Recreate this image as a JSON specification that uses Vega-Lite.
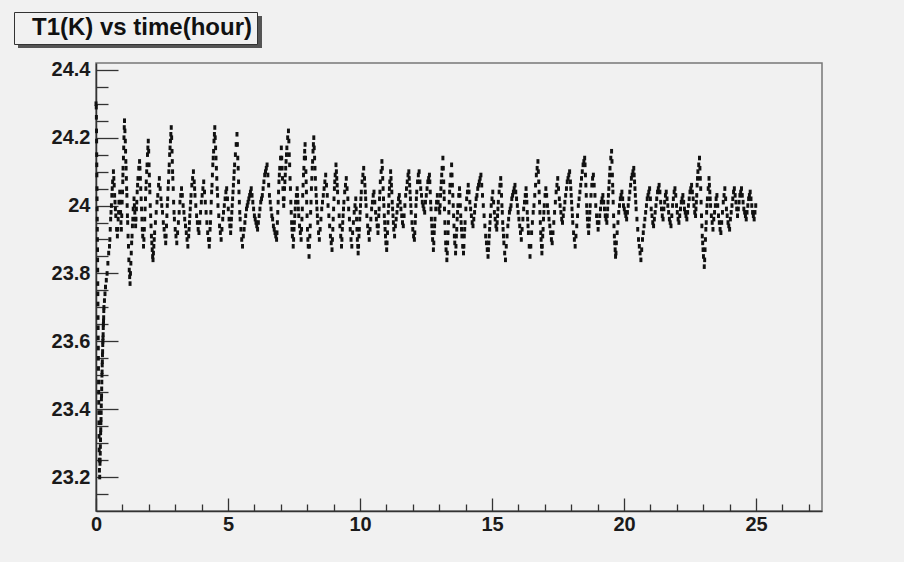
{
  "$schema": "https://vega.github.io/schema/vega-lite/v6.json",
  "width": 726,
  "height": 448,
  "autosize": {"type": "none"},
  "padding": {"left": 96, "top": 63, "right": 82, "bottom": 51},
  "background": "#f1f1f1",
  "config": {
    "font": "Liberation Sans",
    "view": {"stroke": "#777777", "strokeWidth": 1.5, "fill": "#f1f1f1"}
  },
  "data": {"values": [
    {"t":0,"v":24.30},{"t":0.01,"v":24.29},{"t":0.02,"v":24.22},{"t":0.03,"v":24.12},{"t":0.04,"v":24.02},{"t":0.05,"v":23.93},{"t":0.06,"v":23.84},{"t":0.07,"v":23.74},{"t":0.08,"v":23.64},{"t":0.09,"v":23.55},{"t":0.10,"v":23.45},{"t":0.11,"v":23.36},{"t":0.12,"v":23.28},{"t":0.13,"v":23.22},{"t":0.14,"v":23.20},{"t":0.15,"v":23.24},{"t":0.16,"v":23.27},{"t":0.17,"v":23.31},{"t":0.18,"v":23.34},{"t":0.19,"v":23.37},{"t":0.20,"v":23.41},{"t":0.21,"v":23.44},{"t":0.22,"v":23.48},{"t":0.23,"v":23.51},{"t":0.24,"v":23.54},{"t":0.25,"v":23.57},{"t":0.26,"v":23.60},{"t":0.27,"v":23.62},{"t":0.28,"v":23.65},{"t":0.29,"v":23.67},{"t":0.30,"v":23.70},{"t":0.32,"v":23.72},{"t":0.34,"v":23.74},{"t":0.36,"v":23.76},{"t":0.39,"v":23.78},{"t":0.42,"v":23.80},{"t":0.45,"v":23.83},{"t":0.48,"v":23.86},{"t":0.51,"v":23.88},
    {"t":0.54,"v":23.93},{"t":0.57,"v":23.98},{"t":0.60,"v":24.03},{"t":0.63,"v":24.07},{"t":0.66,"v":24.10},{"t":0.69,"v":24.06},{"t":0.72,"v":24.01},{"t":0.75,"v":23.97},{"t":0.78,"v":23.93},{"t":0.81,"v":23.91},{"t":0.84,"v":23.96},{"t":0.87,"v":24.01},{"t":0.90,"v":24.04},{"t":0.93,"v":23.98},{"t":0.96,"v":23.93},{"t":0.99,"v":24.01},{"t":1.02,"v":24.09},{"t":1.05,"v":24.17},{"t":1.08,"v":24.25},{"t":1.11,"v":24.19},{"t":1.14,"v":24.11},{"t":1.17,"v":24.03},{"t":1.20,"v":23.95},{"t":1.23,"v":23.88},{"t":1.26,"v":23.81},{"t":1.29,"v":23.77},{"t":1.32,"v":23.83},{"t":1.35,"v":23.89},{"t":1.38,"v":23.94},{"t":1.41,"v":23.99},{"t":1.44,"v":24.02},{"t":1.47,"v":23.98},{"t":1.50,"v":23.94},{"t":1.53,"v":23.99},{"t":1.56,"v":24.04},{"t":1.59,"v":24.08},{"t":1.62,"v":24.11},{"t":1.65,"v":24.13},{"t":1.68,"v":24.08},{"t":1.71,"v":24.02},{"t":1.74,"v":23.96},{"t":1.77,"v":23.91},{"t":1.80,"v":23.88},{"t":1.83,"v":23.93},{"t":1.86,"v":23.99},{"t":1.89,"v":24.05},{"t":1.92,"v":24.10},{"t":1.95,"v":24.15},{"t":1.98,"v":24.19},{"t":2.01,"v":24.12},{"t":2.04,"v":24.04},{"t":2.07,"v":23.97},{"t":2.10,"v":23.91},{"t":2.13,"v":23.87},{"t":2.16,"v":23.84},{"t":2.19,"v":23.88},{"t":2.22,"v":23.92},{"t":2.25,"v":23.95},{"t":2.28,"v":23.98},{"t":2.31,"v":24.01},{"t":2.34,"v":24.03},{"t":2.37,"v":24.06},{"t":2.40,"v":24.08},{"t":2.43,"v":24.05},{"t":2.46,"v":24.02},{"t":2.49,"v":24.00},{"t":2.52,"v":23.98},{"t":2.55,"v":23.95},{"t":2.58,"v":23.93},{"t":2.61,"v":23.91},{"t":2.64,"v":23.89},{"t":2.67,"v":23.94},{"t":2.70,"v":24.00},{"t":2.73,"v":24.05},{"t":2.76,"v":24.10},{"t":2.79,"v":24.15},{"t":2.82,"v":24.19},{"t":2.85,"v":24.23},{"t":2.88,"v":24.16},{"t":2.91,"v":24.08},{"t":2.94,"v":24.01},{"t":2.97,"v":23.96},{"t":3.00,"v":23.93},{"t":3.03,"v":23.91},{"t":3.06,"v":23.89},{"t":3.09,"v":23.92},{"t":3.12,"v":23.95},{"t":3.15,"v":23.98},{"t":3.18,"v":24.01},{"t":3.21,"v":24.03},{"t":3.24,"v":24.05},{"t":3.27,"v":24.03},{"t":3.30,"v":24.00},{"t":3.33,"v":23.98},{"t":3.36,"v":23.96},{"t":3.39,"v":23.94},{"t":3.42,"v":23.92},{"t":3.45,"v":23.90},{"t":3.48,"v":23.88},{"t":3.51,"v":23.91},{"t":3.54,"v":23.95},{"t":3.57,"v":23.99},{"t":3.60,"v":24.03},{"t":3.63,"v":24.06},{"t":3.66,"v":24.08},{"t":3.69,"v":24.10},{"t":3.72,"v":24.07},{"t":3.75,"v":24.03},{"t":3.78,"v":24.00},{"t":3.81,"v":23.97},{"t":3.84,"v":23.95},{"t":3.87,"v":23.93},{"t":3.90,"v":23.92},{"t":3.93,"v":23.95},{"t":3.96,"v":23.98},{"t":3.99,"v":24.01},{"t":4.02,"v":24.03},{"t":4.05,"v":24.05},{"t":4.08,"v":24.07},{"t":4.11,"v":24.04},{"t":4.14,"v":24.01},{"t":4.17,"v":23.98},{"t":4.20,"v":23.95},{"t":4.23,"v":23.92},{"t":4.26,"v":23.90},{"t":4.29,"v":23.88},{"t":4.32,"v":23.93},{"t":4.35,"v":23.98},{"t":4.38,"v":24.04},{"t":4.41,"v":24.09},{"t":4.44,"v":24.14},{"t":4.47,"v":24.19},{"t":4.50,"v":24.23},{"t":4.53,"v":24.17},{"t":4.56,"v":24.11},{"t":4.59,"v":24.05},{"t":4.62,"v":24.00},{"t":4.65,"v":23.97},{"t":4.68,"v":23.94},{"t":4.71,"v":23.92},{"t":4.74,"v":23.90},{"t":4.77,"v":23.93},{"t":4.80,"v":23.96},{"t":4.83,"v":23.98},{"t":4.86,"v":24.00},{"t":4.89,"v":24.02},{"t":4.92,"v":24.04},{"t":4.95,"v":24.05},{"t":4.98,"v":24.02},{"t":5.01,"v":23.99},{"t":5.04,"v":23.96},{"t":5.07,"v":23.94},{"t":5.10,"v":23.92},{"t":5.13,"v":23.96},{"t":5.16,"v":24.00},{"t":5.19,"v":24.04},{"t":5.22,"v":24.08},{"t":5.25,"v":24.12},{"t":5.28,"v":24.15},{"t":5.31,"v":24.18},{"t":5.34,"v":24.21},{"t":5.37,"v":24.14},{"t":5.40,"v":24.07},{"t":5.43,"v":24.01},{"t":5.46,"v":23.96},{"t":5.49,"v":23.93},{"t":5.52,"v":23.90},{"t":5.55,"v":23.88},{"t":5.58,"v":23.91},{"t":5.61,"v":23.93},{"t":5.64,"v":23.95},{"t":5.67,"v":23.97},{"t":5.70,"v":23.99},{"t":5.73,"v":24.00},{"t":5.76,"v":24.01},{"t":5.79,"v":24.02},{"t":5.82,"v":24.03},{"t":5.85,"v":24.04},{"t":5.88,"v":24.05},{"t":5.91,"v":24.03},{"t":5.94,"v":24.01},{"t":5.97,"v":23.99},{"t":6.00,"v":23.97},{"t":6.03,"v":23.96},{"t":6.06,"v":23.95},{"t":6.09,"v":23.94},{"t":6.12,"v":23.93},{"t":6.15,"v":23.95},{"t":6.18,"v":23.97},{"t":6.21,"v":23.99},{"t":6.24,"v":24.01},{"t":6.27,"v":24.02},{"t":6.30,"v":24.03},{"t":6.33,"v":24.05},{"t":6.36,"v":24.07},{"t":6.39,"v":24.09},{"t":6.42,"v":24.10},{"t":6.45,"v":24.11},{"t":6.48,"v":24.12},{"t":6.51,"v":24.09},{"t":6.54,"v":24.06},{"t":6.57,"v":24.03},{"t":6.60,"v":24.01},{"t":6.63,"v":23.99},{"t":6.66,"v":23.97},{"t":6.69,"v":23.96},{"t":6.72,"v":23.94},{"t":6.75,"v":23.93},{"t":6.78,"v":23.92},{"t":6.81,"v":23.91},{"t":6.84,"v":23.90},{"t":6.87,"v":23.95},{"t":6.90,"v":24.01},{"t":6.93,"v":24.07},{"t":6.96,"v":24.11},{"t":6.99,"v":24.14},{"t":7.02,"v":24.17},{"t":7.05,"v":24.11},{"t":7.08,"v":24.05},{"t":7.11,"v":24.00},{"t":7.14,"v":24.05},{"t":7.17,"v":24.09},{"t":7.20,"v":24.13},{"t":7.23,"v":24.17},{"t":7.26,"v":24.20},{"t":7.29,"v":24.22},{"t":7.32,"v":24.15},{"t":7.35,"v":24.08},{"t":7.38,"v":24.01},{"t":7.41,"v":23.95},{"t":7.44,"v":23.91},{"t":7.47,"v":23.88},{"t":7.50,"v":23.93},{"t":7.53,"v":23.97},{"t":7.56,"v":24.01},{"t":7.59,"v":24.03},{"t":7.62,"v":24.05},{"t":7.65,"v":24.01},{"t":7.68,"v":23.97},{"t":7.71,"v":23.94},{"t":7.74,"v":23.92},{"t":7.77,"v":23.90},{"t":7.80,"v":23.96},{"t":7.83,"v":24.03},{"t":7.86,"v":24.09},{"t":7.89,"v":24.14},{"t":7.92,"v":24.18},{"t":7.95,"v":24.10},{"t":7.98,"v":24.01},{"t":8.01,"v":23.93},{"t":8.04,"v":23.88},{"t":8.07,"v":23.85},{"t":8.10,"v":23.91},{"t":8.13,"v":23.98},{"t":8.16,"v":24.05},{"t":8.19,"v":24.11},{"t":8.22,"v":24.16},{"t":8.25,"v":24.20},{"t":8.28,"v":24.14},{"t":8.31,"v":24.08},{"t":8.34,"v":24.03},{"t":8.37,"v":23.99},{"t":8.40,"v":23.95},{"t":8.43,"v":23.92},{"t":8.46,"v":23.90},{"t":8.49,"v":23.93},{"t":8.52,"v":23.96},{"t":8.55,"v":23.99},{"t":8.58,"v":24.01},{"t":8.61,"v":24.03},{"t":8.64,"v":24.05},{"t":8.67,"v":24.07},{"t":8.70,"v":24.09},{"t":8.73,"v":24.06},{"t":8.76,"v":24.03},{"t":8.79,"v":24.00},{"t":8.82,"v":23.97},{"t":8.85,"v":23.94},{"t":8.88,"v":23.91},{"t":8.91,"v":23.89},{"t":8.94,"v":23.87},{"t":8.97,"v":23.93},{"t":9.00,"v":23.99},{"t":9.03,"v":24.05},{"t":9.06,"v":24.09},{"t":9.09,"v":24.12},{"t":9.12,"v":24.08},{"t":9.15,"v":24.04},{"t":9.18,"v":24.01},{"t":9.21,"v":23.97},{"t":9.24,"v":23.94},{"t":9.27,"v":23.91},{"t":9.30,"v":23.88},{"t":9.33,"v":23.93},{"t":9.36,"v":23.97},{"t":9.39,"v":24.01},{"t":9.42,"v":24.04},{"t":9.45,"v":24.06},{"t":9.48,"v":24.08},{"t":9.51,"v":24.05},{"t":9.54,"v":24.02},{"t":9.57,"v":23.99},{"t":9.60,"v":23.96},{"t":9.63,"v":23.93},{"t":9.66,"v":23.90},{"t":9.69,"v":23.88},{"t":9.72,"v":23.92},{"t":9.75,"v":23.95},{"t":9.78,"v":23.98},{"t":9.81,"v":24.00},{"t":9.84,"v":24.02},{"t":9.87,"v":23.96},{"t":9.90,"v":23.90},{"t":9.93,"v":23.86},{"t":9.96,"v":23.91},{"t":9.99,"v":23.96},{"t":10.02,"v":24.00},{"t":10.05,"v":24.04},{"t":10.08,"v":24.07},{"t":10.11,"v":24.09},{"t":10.14,"v":24.11},{"t":10.17,"v":24.08},{"t":10.20,"v":24.04},{"t":10.23,"v":24.00},{"t":10.26,"v":23.97},{"t":10.29,"v":23.94},{"t":10.32,"v":23.92},{"t":10.35,"v":23.90},{"t":10.38,"v":23.93},{"t":10.41,"v":23.96},{"t":10.44,"v":23.99},{"t":10.47,"v":24.01},{"t":10.50,"v":24.03},{"t":10.53,"v":24.04},{"t":10.56,"v":24.01},{"t":10.59,"v":23.98},{"t":10.62,"v":23.96},{"t":10.65,"v":23.94},{"t":10.68,"v":23.92},{"t":10.71,"v":23.97},{"t":10.74,"v":24.02},{"t":10.77,"v":24.07},{"t":10.80,"v":24.10},{"t":10.83,"v":24.13},{"t":10.86,"v":24.08},{"t":10.89,"v":24.02},{"t":10.92,"v":23.97},{"t":10.95,"v":23.93},{"t":10.98,"v":23.89},{"t":11.01,"v":23.87},{"t":11.04,"v":23.92},{"t":11.07,"v":23.98},{"t":11.10,"v":24.03},{"t":11.13,"v":24.07},{"t":11.16,"v":24.10},{"t":11.19,"v":24.06},{"t":11.22,"v":24.01},{"t":11.25,"v":23.97},{"t":11.28,"v":23.93},{"t":11.31,"v":23.91},{"t":11.34,"v":23.94},{"t":11.37,"v":23.96},{"t":11.40,"v":23.98},{"t":11.43,"v":24.00},{"t":11.46,"v":24.02},{"t":11.49,"v":24.03},{"t":11.52,"v":24.01},{"t":11.55,"v":23.99},{"t":11.58,"v":23.97},{"t":11.61,"v":23.95},{"t":11.64,"v":23.94},{"t":11.67,"v":23.97},{"t":11.70,"v":24.00},{"t":11.73,"v":24.03},{"t":11.76,"v":24.05},{"t":11.79,"v":24.07},{"t":11.82,"v":24.09},{"t":11.85,"v":24.10},{"t":11.88,"v":24.06},{"t":11.91,"v":24.02},{"t":11.94,"v":23.98},{"t":11.97,"v":23.95},{"t":12.00,"v":23.93},{"t":12.03,"v":23.91},{"t":12.06,"v":23.90},{"t":12.09,"v":23.95},{"t":12.12,"v":24.00},{"t":12.15,"v":24.04},{"t":12.18,"v":24.07},{"t":12.21,"v":24.09},{"t":12.24,"v":24.10},{"t":12.27,"v":24.07},{"t":12.30,"v":24.05},{"t":12.33,"v":24.03},{"t":12.36,"v":24.01},{"t":12.39,"v":24.00},{"t":12.42,"v":23.99},{"t":12.45,"v":23.98},{"t":12.48,"v":24.01},{"t":12.51,"v":24.03},{"t":12.54,"v":24.05},{"t":12.57,"v":24.07},{"t":12.60,"v":24.08},{"t":12.63,"v":24.09},{"t":12.66,"v":24.04},{"t":12.69,"v":23.99},{"t":12.72,"v":23.94},{"t":12.75,"v":23.90},{"t":12.78,"v":23.87},{"t":12.81,"v":23.92},{"t":12.84,"v":23.96},{"t":12.87,"v":23.99},{"t":12.90,"v":24.01},{"t":12.93,"v":24.03},{"t":12.96,"v":24.01},{"t":12.99,"v":23.99},{"t":13.02,"v":23.98},{"t":13.05,"v":24.03},{"t":13.08,"v":24.07},{"t":13.11,"v":24.11},{"t":13.14,"v":24.14},{"t":13.17,"v":24.07},{"t":13.20,"v":23.99},{"t":13.23,"v":23.92},{"t":13.26,"v":23.87},{"t":13.29,"v":23.84},{"t":13.32,"v":23.89},{"t":13.35,"v":23.95},{"t":13.38,"v":24.01},{"t":13.41,"v":24.06},{"t":13.44,"v":24.09},{"t":13.47,"v":24.12},{"t":13.50,"v":24.06},{"t":13.53,"v":24.00},{"t":13.56,"v":23.94},{"t":13.59,"v":23.89},{"t":13.62,"v":23.86},{"t":13.65,"v":23.91},{"t":13.68,"v":23.96},{"t":13.71,"v":24.00},{"t":13.74,"v":24.03},{"t":13.77,"v":24.05},{"t":13.80,"v":24.00},{"t":13.83,"v":23.95},{"t":13.86,"v":23.91},{"t":13.89,"v":23.88},{"t":13.92,"v":23.86},{"t":13.95,"v":23.91},{"t":13.98,"v":23.95},{"t":14.01,"v":23.99},{"t":14.04,"v":24.02},{"t":14.07,"v":24.04},{"t":14.10,"v":24.06},{"t":14.13,"v":24.04},{"t":14.16,"v":24.01},{"t":14.19,"v":23.99},{"t":14.22,"v":23.97},{"t":14.25,"v":23.95},{"t":14.28,"v":23.94},{"t":14.31,"v":23.96},{"t":14.34,"v":23.98},{"t":14.37,"v":24.00},{"t":14.40,"v":24.02},{"t":14.43,"v":24.03},{"t":14.46,"v":24.05},{"t":14.49,"v":24.06},{"t":14.52,"v":24.07},{"t":14.55,"v":24.08},{"t":14.58,"v":24.09},{"t":14.61,"v":24.06},{"t":14.64,"v":24.03},{"t":14.67,"v":24.00},{"t":14.70,"v":23.97},{"t":14.73,"v":23.94},{"t":14.76,"v":23.91},{"t":14.79,"v":23.89},{"t":14.82,"v":23.87},{"t":14.85,"v":23.85},{"t":14.88,"v":23.89},{"t":14.91,"v":23.93},{"t":14.94,"v":23.97},{"t":14.97,"v":24.00},{"t":15.00,"v":24.02},{"t":15.03,"v":24.04},{"t":15.06,"v":24.01},{"t":15.09,"v":23.98},{"t":15.12,"v":23.96},{"t":15.15,"v":23.94},{"t":15.18,"v":23.93},{"t":15.21,"v":23.97},{"t":15.24,"v":24.01},{"t":15.27,"v":24.04},{"t":15.30,"v":24.06},{"t":15.33,"v":24.08},{"t":15.36,"v":24.03},{"t":15.39,"v":23.98},{"t":15.42,"v":23.93},{"t":15.45,"v":23.89},{"t":15.48,"v":23.86},{"t":15.51,"v":23.84},{"t":15.54,"v":23.88},{"t":15.57,"v":23.91},{"t":15.60,"v":23.94},{"t":15.63,"v":23.96},{"t":15.66,"v":23.98},{"t":15.69,"v":23.99},{"t":15.72,"v":24.00},{"t":15.75,"v":24.02},{"t":15.78,"v":24.03},{"t":15.81,"v":24.04},{"t":15.84,"v":24.05},{"t":15.87,"v":24.06},{"t":15.90,"v":24.04},{"t":15.93,"v":24.02},{"t":15.96,"v":24.00},{"t":15.99,"v":23.98},{"t":16.02,"v":23.96},{"t":16.05,"v":23.94},{"t":16.08,"v":23.92},{"t":16.11,"v":23.90},{"t":16.14,"v":23.93},{"t":16.17,"v":23.96},{"t":16.20,"v":23.99},{"t":16.23,"v":24.01},{"t":16.26,"v":24.03},{"t":16.29,"v":24.05},{"t":16.32,"v":24.01},{"t":16.35,"v":23.96},{"t":16.38,"v":23.92},{"t":16.41,"v":23.88},{"t":16.44,"v":23.85},{"t":16.47,"v":23.88},{"t":16.50,"v":23.92},{"t":16.53,"v":23.95},{"t":16.56,"v":23.98},{"t":16.59,"v":24.00},{"t":16.62,"v":24.03},{"t":16.65,"v":24.06},{"t":16.68,"v":24.09},{"t":16.71,"v":24.11},{"t":16.74,"v":24.13},{"t":16.77,"v":24.07},{"t":16.80,"v":24.01},{"t":16.83,"v":23.95},{"t":16.86,"v":23.90},{"t":16.89,"v":23.86},{"t":16.92,"v":23.91},{"t":16.95,"v":23.96},{"t":16.98,"v":24.00},{"t":17.01,"v":24.03},{"t":17.04,"v":24.05},{"t":17.07,"v":24.03},{"t":17.10,"v":24.00},{"t":17.13,"v":23.98},{"t":17.16,"v":23.96},{"t":17.19,"v":23.94},{"t":17.22,"v":23.92},{"t":17.25,"v":23.90},{"t":17.28,"v":23.89},{"t":17.31,"v":23.92},{"t":17.34,"v":23.95},{"t":17.37,"v":23.98},{"t":17.40,"v":24.01},{"t":17.43,"v":24.04},{"t":17.46,"v":24.06},{"t":17.49,"v":24.08},{"t":17.52,"v":24.05},{"t":17.55,"v":24.02},{"t":17.58,"v":24.00},{"t":17.61,"v":23.98},{"t":17.64,"v":23.96},{"t":17.67,"v":23.95},{"t":17.70,"v":23.97},{"t":17.73,"v":23.99},{"t":17.76,"v":24.01},{"t":17.79,"v":24.03},{"t":17.82,"v":24.05},{"t":17.85,"v":24.07},{"t":17.88,"v":24.08},{"t":17.91,"v":24.09},{"t":17.94,"v":24.10},{"t":17.97,"v":24.07},{"t":18.00,"v":24.03},{"t":18.03,"v":23.99},{"t":18.06,"v":23.95},{"t":18.09,"v":23.92},{"t":18.12,"v":23.90},{"t":18.15,"v":23.88},{"t":18.18,"v":23.91},{"t":18.21,"v":23.94},{"t":18.24,"v":23.97},{"t":18.27,"v":24.00},{"t":18.30,"v":24.02},{"t":18.33,"v":24.04},{"t":18.36,"v":24.06},{"t":18.39,"v":24.08},{"t":18.42,"v":24.10},{"t":18.45,"v":24.12},{"t":18.48,"v":24.13},{"t":18.51,"v":24.14},{"t":18.54,"v":24.09},{"t":18.57,"v":24.03},{"t":18.60,"v":23.98},{"t":18.63,"v":23.94},{"t":18.66,"v":23.92},{"t":18.69,"v":23.96},{"t":18.72,"v":24.00},{"t":18.75,"v":24.03},{"t":18.78,"v":24.06},{"t":18.81,"v":24.08},{"t":18.84,"v":24.09},{"t":18.87,"v":24.06},{"t":18.90,"v":24.03},{"t":18.93,"v":24.00},{"t":18.96,"v":23.97},{"t":18.99,"v":23.95},{"t":19.02,"v":23.93},{"t":19.05,"v":23.95},{"t":19.08,"v":23.97},{"t":19.11,"v":23.99},{"t":19.14,"v":24.01},{"t":19.17,"v":24.02},{"t":19.20,"v":24.03},{"t":19.23,"v":24.01},{"t":19.26,"v":23.99},{"t":19.29,"v":23.97},{"t":19.32,"v":23.96},{"t":19.35,"v":23.95},{"t":19.38,"v":23.99},{"t":19.41,"v":24.03},{"t":19.44,"v":24.07},{"t":19.47,"v":24.11},{"t":19.50,"v":24.14},{"t":19.53,"v":24.16},{"t":19.56,"v":24.09},{"t":19.59,"v":24.01},{"t":19.62,"v":23.94},{"t":19.65,"v":23.89},{"t":19.68,"v":23.85},{"t":19.71,"v":23.89},{"t":19.74,"v":23.92},{"t":19.77,"v":23.95},{"t":19.80,"v":23.98},{"t":19.83,"v":24.00},{"t":19.86,"v":24.02},{"t":19.89,"v":24.03},{"t":19.92,"v":24.04},{"t":19.95,"v":24.02},{"t":19.98,"v":24.00},{"t":20.01,"v":23.99},{"t":20.04,"v":23.98},{"t":20.07,"v":23.97},{"t":20.10,"v":23.96},{"t":20.13,"v":23.98},{"t":20.16,"v":24.00},{"t":20.19,"v":24.02},{"t":20.22,"v":24.04},{"t":20.25,"v":24.06},{"t":20.28,"v":24.08},{"t":20.31,"v":24.09},{"t":20.34,"v":24.10},{"t":20.37,"v":24.11},{"t":20.40,"v":24.07},{"t":20.43,"v":24.03},{"t":20.46,"v":23.99},{"t":20.49,"v":23.96},{"t":20.52,"v":23.93},{"t":20.55,"v":23.90},{"t":20.58,"v":23.88},{"t":20.61,"v":23.86},{"t":20.64,"v":23.84},{"t":20.67,"v":23.87},{"t":20.70,"v":23.90},{"t":20.73,"v":23.92},{"t":20.76,"v":23.94},{"t":20.79,"v":23.96},{"t":20.82,"v":23.98},{"t":20.85,"v":24.00},{"t":20.88,"v":24.02},{"t":20.91,"v":24.03},{"t":20.94,"v":24.04},{"t":20.97,"v":24.05},{"t":21.00,"v":24.02},{"t":21.03,"v":23.99},{"t":21.06,"v":23.97},{"t":21.09,"v":23.95},{"t":21.12,"v":23.94},{"t":21.15,"v":23.96},{"t":21.18,"v":23.98},{"t":21.21,"v":24.00},{"t":21.24,"v":24.02},{"t":21.27,"v":24.04},{"t":21.30,"v":24.05},{"t":21.33,"v":24.06},{"t":21.36,"v":24.04},{"t":21.39,"v":24.01},{"t":21.42,"v":23.99},{"t":21.45,"v":23.97},{"t":21.48,"v":23.96},{"t":21.51,"v":23.99},{"t":21.54,"v":24.01},{"t":21.57,"v":24.03},{"t":21.60,"v":24.04},{"t":21.63,"v":24.02},{"t":21.66,"v":24.00},{"t":21.69,"v":23.98},{"t":21.72,"v":23.96},{"t":21.75,"v":23.95},{"t":21.78,"v":23.94},{"t":21.81,"v":23.97},{"t":21.84,"v":24.00},{"t":21.87,"v":24.02},{"t":21.90,"v":24.04},{"t":21.93,"v":24.05},{"t":21.96,"v":24.03},{"t":21.99,"v":24.00},{"t":22.02,"v":23.98},{"t":22.05,"v":23.96},{"t":22.08,"v":23.95},{"t":22.11,"v":23.97},{"t":22.14,"v":23.99},{"t":22.17,"v":24.01},{"t":22.20,"v":24.02},{"t":22.23,"v":24.03},{"t":22.26,"v":24.01},{"t":22.29,"v":23.99},{"t":22.32,"v":23.98},{"t":22.35,"v":23.97},{"t":22.38,"v":23.96},{"t":22.41,"v":23.98},{"t":22.44,"v":24.00},{"t":22.47,"v":24.02},{"t":22.50,"v":24.04},{"t":22.53,"v":24.05},{"t":22.56,"v":24.06},{"t":22.59,"v":24.04},{"t":22.62,"v":24.02},{"t":22.65,"v":24.00},{"t":22.68,"v":23.98},{"t":22.71,"v":23.97},{"t":22.74,"v":24.01},{"t":22.77,"v":24.06},{"t":22.80,"v":24.10},{"t":22.83,"v":24.12},{"t":22.86,"v":24.14},{"t":22.89,"v":24.08},{"t":22.92,"v":24.01},{"t":22.95,"v":23.94},{"t":22.98,"v":23.89},{"t":23.01,"v":23.85},{"t":23.04,"v":23.82},{"t":23.07,"v":23.87},{"t":23.10,"v":23.93},{"t":23.13,"v":23.98},{"t":23.16,"v":24.02},{"t":23.19,"v":24.05},{"t":23.22,"v":24.08},{"t":23.25,"v":24.04},{"t":23.28,"v":24.00},{"t":23.31,"v":23.97},{"t":23.34,"v":23.95},{"t":23.37,"v":23.93},{"t":23.40,"v":23.96},{"t":23.43,"v":23.98},{"t":23.46,"v":24.00},{"t":23.49,"v":24.02},{"t":23.52,"v":24.03},{"t":23.55,"v":24.00},{"t":23.58,"v":23.97},{"t":23.61,"v":23.95},{"t":23.64,"v":23.93},{"t":23.67,"v":23.92},{"t":23.70,"v":23.95},{"t":23.73,"v":23.98},{"t":23.76,"v":24.01},{"t":23.79,"v":24.03},{"t":23.82,"v":24.05},{"t":23.85,"v":24.02},{"t":23.88,"v":23.99},{"t":23.91,"v":23.97},{"t":23.94,"v":23.95},{"t":23.97,"v":23.94},{"t":24.00,"v":23.93},{"t":24.03,"v":23.96},{"t":24.06,"v":23.98},{"t":24.09,"v":24.00},{"t":24.12,"v":24.02},{"t":24.15,"v":24.04},{"t":24.18,"v":24.05},{"t":24.21,"v":24.03},{"t":24.24,"v":24.01},{"t":24.27,"v":23.99},{"t":24.30,"v":23.97},{"t":24.33,"v":23.99},{"t":24.36,"v":24.01},{"t":24.39,"v":24.03},{"t":24.42,"v":24.04},{"t":24.45,"v":24.05},{"t":24.48,"v":24.03},{"t":24.51,"v":24.01},{"t":24.54,"v":23.99},{"t":24.57,"v":23.98},{"t":24.60,"v":23.97},{"t":24.63,"v":23.96},{"t":24.66,"v":23.98},{"t":24.69,"v":24.00},{"t":24.72,"v":24.02},{"t":24.75,"v":24.03},{"t":24.78,"v":24.04},{"t":24.81,"v":24.02},{"t":24.84,"v":24.00},{"t":24.87,"v":23.98},{"t":24.90,"v":23.97},{"t":24.93,"v":23.96},{"t":24.96,"v":23.98},{"t":24.99,"v":24.00},
    {"t":0.015,"v":24.26},{"t":0.023,"v":24.19},{"t":0.027,"v":24.15},{"t":0.033,"v":24.09},{"t":0.037,"v":24.05},{"t":0.043,"v":23.99},{"t":0.047,"v":23.96},{"t":0.053,"v":23.90},{"t":0.057,"v":23.87},{"t":0.063,"v":23.81},{"t":0.067,"v":23.77},{"t":0.073,"v":23.71},{"t":0.077,"v":23.67},{"t":0.083,"v":23.61},{"t":0.087,"v":23.58},{"t":0.093,"v":23.52},{"t":0.097,"v":23.48},{"t":0.103,"v":23.42},{"t":0.107,"v":23.39},{"t":0.115,"v":23.32},{"t":0.125,"v":23.25},{"t":0.155,"v":23.25},{"t":0.165,"v":23.29},{"t":0.175,"v":23.33},{"t":0.185,"v":23.36},{"t":0.195,"v":23.39},{"t":0.205,"v":23.43},{"t":0.215,"v":23.46},{"t":0.225,"v":23.50},{"t":0.235,"v":23.53},{"t":0.245,"v":23.56},{"t":0.255,"v":23.59},{"t":0.265,"v":23.61},{"t":0.275,"v":23.64},{"t":0.285,"v":23.66},{"t":0.295,"v":23.69},
    {"t":0.525,"v":23.90},{"t":0.555,"v":23.96},{"t":0.585,"v":24.00},{"t":0.615,"v":24.05},{"t":0.675,"v":24.08},{"t":0.705,"v":24.03},{"t":0.735,"v":23.99},{"t":0.825,"v":23.93},{"t":0.855,"v":23.98},{"t":0.915,"v":24.01},{"t":0.945,"v":23.95},{"t":0.975,"v":23.97},{"t":1.005,"v":24.04},{"t":1.015,"v":24.07},{"t":1.025,"v":24.11},{"t":1.04,"v":24.14},{"t":1.06,"v":24.20},{"t":1.07,"v":24.23},{"t":1.095,"v":24.22},{"t":1.12,"v":24.16},{"t":1.13,"v":24.13},{"t":1.15,"v":24.08},{"t":1.16,"v":24.05},{"t":1.18,"v":24.00},{"t":1.19,"v":23.97},{"t":1.215,"v":23.91},{"t":1.245,"v":23.84},{"t":1.275,"v":23.79},{"t":1.305,"v":23.80},{"t":1.335,"v":23.86},{"t":1.365,"v":23.91},{"t":1.395,"v":23.96},{"t":1.455,"v":24.00},{"t":1.485,"v":23.96},{"t":1.515,"v":23.96},{"t":1.545,"v":24.01},{"t":1.575,"v":24.06},{"t":1.665,"v":24.11},{"t":1.695,"v":24.05},{"t":1.725,"v":23.99},{"t":1.755,"v":23.93},{"t":1.815,"v":23.90},{"t":1.845,"v":23.96},{"t":1.875,"v":24.02},{"t":1.905,"v":24.07},{"t":1.935,"v":24.12},{"t":1.965,"v":24.17},{"t":1.995,"v":24.16},{"t":2.02,"v":24.09},{"t":2.03,"v":24.06},{"t":2.055,"v":24.00},{"t":2.085,"v":23.94},{"t":2.115,"v":23.89},{"t":2.145,"v":23.85},{"t":2.175,"v":23.86},{"t":2.205,"v":23.90},
    {"t":2.655,"v":23.91},{"t":2.685,"v":23.97},{"t":2.715,"v":24.02},{"t":2.745,"v":24.07},{"t":2.775,"v":24.12},{"t":2.805,"v":24.17},{"t":2.835,"v":24.21},{"t":2.865,"v":24.20},{"t":2.89,"v":24.13},{"t":2.90,"v":24.10},{"t":2.925,"v":24.05},{"t":2.955,"v":23.98},{"t":3.525,"v":23.93},{"t":3.555,"v":23.97},{"t":3.585,"v":24.01},{"t":3.735,"v":24.05},{"t":4.305,"v":23.90},{"t":4.335,"v":23.95},{"t":4.365,"v":24.01},{"t":4.395,"v":24.06},{"t":4.425,"v":24.12},{"t":4.455,"v":24.16},{"t":4.485,"v":24.21},{"t":4.515,"v":24.20},{"t":4.545,"v":24.14},{"t":4.575,"v":24.08},{"t":4.605,"v":24.03},{"t":5.115,"v":23.94},{"t":5.145,"v":23.98},{"t":5.175,"v":24.02},{"t":5.205,"v":24.06},{"t":5.235,"v":24.10},{"t":5.355,"v":24.18},{"t":5.385,"v":24.11},{"t":5.415,"v":24.04},{"t":5.445,"v":23.98},
    {"t":6.855,"v":23.92},{"t":6.885,"v":23.98},{"t":6.915,"v":24.04},{"t":6.945,"v":24.09},{"t":7.035,"v":24.14},{"t":7.065,"v":24.08},{"t":7.095,"v":24.02},{"t":7.125,"v":24.02},{"t":7.155,"v":24.07},{"t":7.185,"v":24.11},{"t":7.215,"v":24.15},{"t":7.305,"v":24.19},{"t":7.335,"v":24.12},{"t":7.365,"v":24.05},{"t":7.395,"v":23.98},{"t":7.425,"v":23.93},{"t":7.485,"v":23.90},{"t":7.515,"v":23.95},{"t":7.545,"v":23.99},{"t":7.635,"v":24.03},{"t":7.665,"v":23.99},{"t":7.785,"v":23.93},{"t":7.815,"v":23.99},{"t":7.845,"v":24.06},{"t":7.875,"v":24.11},{"t":7.905,"v":24.16},{"t":7.935,"v":24.14},{"t":7.96,"v":24.07},{"t":7.97,"v":24.04},{"t":7.995,"v":23.97},{"t":8.025,"v":23.90},{"t":8.085,"v":23.88},{"t":8.115,"v":23.94},{"t":8.145,"v":24.01},{"t":8.175,"v":24.08},{"t":8.205,"v":24.13},{"t":8.235,"v":24.18},{"t":8.265,"v":24.17},{"t":8.295,"v":24.11},{"t":8.325,"v":24.05},{"t":8.355,"v":24.01},{"t":8.385,"v":23.97},
    {"t":8.955,"v":23.90},{"t":8.985,"v":23.96},{"t":9.015,"v":24.02},{"t":9.045,"v":24.07},{"t":9.105,"v":24.10},{"t":9.135,"v":24.06},{"t":9.315,"v":23.90},{"t":9.345,"v":23.95},{"t":9.375,"v":23.99},{"t":9.855,"v":23.99},{"t":9.885,"v":23.93},{"t":9.915,"v":23.88},{"t":9.945,"v":23.88},{"t":9.975,"v":23.93},{"t":10.005,"v":23.98},{"t":10.035,"v":24.02},{"t":10.185,"v":24.06},{"t":10.215,"v":24.02},{"t":10.695,"v":23.94},{"t":10.725,"v":23.99},{"t":10.755,"v":24.04},{"t":10.845,"v":24.11},{"t":10.875,"v":24.05},{"t":10.905,"v":24.00},{"t":10.935,"v":23.95},{"t":10.965,"v":23.91},{"t":11.025,"v":23.89},{"t":11.055,"v":23.95},{"t":11.085,"v":24.00},{"t":11.115,"v":24.05},{"t":11.175,"v":24.08},{"t":11.205,"v":24.04},{"t":11.235,"v":23.99},{"t":11.265,"v":23.95},{"t":11.865,"v":24.08},{"t":11.895,"v":24.04},{"t":11.925,"v":24.00},{"t":12.075,"v":23.92},{"t":12.105,"v":23.97},{"t":12.135,"v":24.02},{"t":12.645,"v":24.07},{"t":12.675,"v":24.01},{"t":12.705,"v":23.96},{"t":12.735,"v":23.92},{"t":12.795,"v":23.89},{"t":12.825,"v":23.94},
    {"t":13.035,"v":24.00},{"t":13.065,"v":24.05},{"t":13.095,"v":24.09},{"t":13.155,"v":24.11},{"t":13.18,"v":24.04},{"t":13.19,"v":24.02},{"t":13.215,"v":23.95},{"t":13.245,"v":23.89},{"t":13.305,"v":23.86},{"t":13.335,"v":23.92},{"t":13.365,"v":23.98},{"t":13.395,"v":24.04},{"t":13.485,"v":24.09},{"t":13.515,"v":24.03},{"t":13.545,"v":23.97},{"t":13.575,"v":23.91},{"t":13.635,"v":23.88},{"t":13.665,"v":23.93},{"t":13.695,"v":23.98},{"t":13.785,"v":24.03},{"t":13.815,"v":23.97},{"t":13.845,"v":23.93},{"t":13.935,"v":23.88},{"t":13.965,"v":23.93},{"t":14.865,"v":23.87},{"t":14.895,"v":23.91},{"t":14.925,"v":23.95},{"t":15.195,"v":23.95},{"t":15.225,"v":23.99},{"t":15.345,"v":24.06},{"t":15.375,"v":24.00},{"t":15.405,"v":23.95},{"t":15.435,"v":23.91},{"t":16.305,"v":24.03},{"t":16.335,"v":23.98},{"t":16.365,"v":23.94},{"t":16.755,"v":24.10},{"t":16.785,"v":24.04},{"t":16.815,"v":23.98},{"t":16.845,"v":23.92},{"t":16.875,"v":23.88},{"t":16.905,"v":23.88},{"t":16.935,"v":23.93},{"t":16.965,"v":23.98},
    {"t":17.985,"v":24.05},{"t":18.015,"v":24.01},{"t":18.045,"v":23.97},{"t":18.525,"v":24.12},{"t":18.555,"v":24.06},{"t":18.585,"v":24.00},{"t":18.615,"v":23.96},{"t":18.675,"v":23.94},{"t":18.705,"v":23.98},{"t":19.365,"v":23.97},{"t":19.395,"v":24.01},{"t":19.425,"v":24.05},{"t":19.455,"v":24.09},{"t":19.545,"v":24.13},{"t":19.57,"v":24.06},{"t":19.58,"v":24.04},{"t":19.605,"v":23.97},{"t":19.635,"v":23.91},{"t":19.665,"v":23.87},{"t":19.695,"v":23.86},{"t":20.385,"v":24.09},{"t":20.415,"v":24.05},{"t":20.445,"v":24.01},{"t":22.725,"v":23.99},{"t":22.755,"v":24.03},{"t":22.785,"v":24.08},{"t":22.875,"v":24.11},{"t":22.905,"v":24.05},{"t":22.935,"v":23.97},{"t":22.965,"v":23.91},{"t":22.995,"v":23.87},{"t":23.055,"v":23.84},{"t":23.085,"v":23.90},{"t":23.115,"v":23.95},{"t":23.145,"v":24.00},{"t":23.235,"v":24.06},{"t":23.265,"v":24.02}
  ]},
  "mark": {"type": "point", "shape": "M-0.65,-1H0.65V1H-0.65Z", "size": 21, "filled": true, "strokeWidth": 0},
  "encoding": {
    "x": {
      "field": "t",
      "type": "quantitative",
      "scale": {"domain": [0, 27.5], "nice": false, "zero": false},
      "axis": {
        "title": null,
        "grid": false,
        "values": [0,1,2,3,4,5,6,7,8,9,10,11,12,13,14,15,16,17,18,19,20,21,22,23,24,25,26,27],
        "labelExpr": "datum.value % 5 === 0 ? datum.label : ''",
        "tickSize": {"condition": {"test": "datum.value % 5 === 0", "value": -13}, "value": -7},
        "tickColor": "#333333",
        "tickWidth": 1.3,
        "domainColor": "#333333",
        "domainWidth": 1.5,
        "labelFont": "Liberation Sans",
        "labelFontSize": 20,
        "labelFontWeight": "bold",
        "labelColor": "#1a1a1a",
        "labelPadding": 16,
        "labelFlush": false,
        "labelOverlap": false
      }
    },
    "y": {
      "field": "v",
      "type": "quantitative",
      "scale": {"domain": [23.1, 24.42], "nice": false, "zero": false},
      "axis": {
        "title": null,
        "grid": false,
        "values": [23.15,23.2,23.25,23.3,23.35,23.4,23.45,23.5,23.55,23.6,23.65,23.7,23.75,23.8,23.85,23.9,23.95,24,24.05,24.1,24.15,24.2,24.25,24.3,24.35,24.4],
        "labelExpr": "abs(datum.value * 5 - round(datum.value * 5)) < 0.001 ? format(datum.value, '~g') : ''",
        "tickSize": {"condition": {"test": "abs(datum.value * 5 - round(datum.value * 5)) < 0.001", "value": -22}, "value": -12},
        "tickColor": "#333333",
        "tickWidth": 1.3,
        "domainColor": "#333333",
        "domainWidth": 1.5,
        "labelFont": "Liberation Sans",
        "labelFontSize": 20,
        "labelFontWeight": "bold",
        "labelColor": "#1a1a1a",
        "labelPadding": 28,
        "labelFlush": false,
        "labelOverlap": false
      }
    },
    "color": {
      "datum": 1,
      "type": "quantitative",
      "scale": {"domain": [0, 1], "range": ["#111111", "#111111"]},
      "legend": {
        "title": null,
        "orient": "none",
        "direction": "horizontal",
        "legendX": -78,
        "legendY": -47,
        "padding": 0,
        "gradientLength": 244,
        "gradientThickness": 32,
        "gradientStrokeWidth": 0,
        "labelExpr": "''",
        "labelFontSize": 1,
        "labelOpacity": 0
      }
    },
    "opacity": {
      "datum": "T1(K) vs time(hour)",
      "type": "nominal",
      "scale": {"type": "ordinal", "range": [1]},
      "legend": {
        "title": null,
        "orient": "none",
        "legendX": -82,
        "legendY": -51,
        "fillColor": "#f1f1f1",
        "strokeColor": "#333333",
        "padding": 4,
        "symbolSize": 0,
        "symbolOpacity": 0,
        "symbolStrokeWidth": 0,
        "labelOffset": -10,
        "labelFont": "Liberation Sans",
        "labelFontSize": 24,
        "labelFontWeight": "bold",
        "labelColor": "#111111",
        "labelLimit": 0
      }
    }
  }
}
